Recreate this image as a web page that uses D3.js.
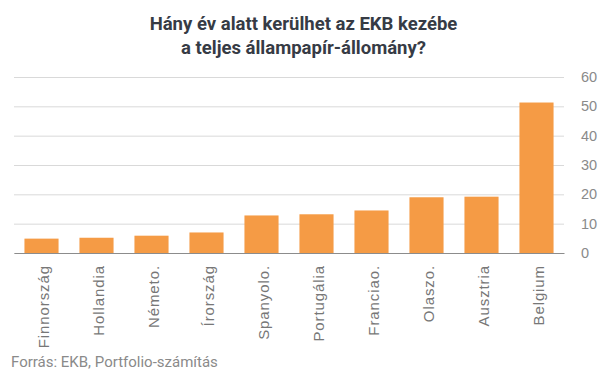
<!DOCTYPE html>
<html>
<head>
<meta charset="utf-8">
<script src="https://cdn.jsdelivr.net/npm/d3@7"></script>
<style>
  body { margin: 0; background: #fff; }
  svg { font-family: Roboto, sans-serif; }
  .grid line { stroke: #d9d9d9; stroke-width: 1; }
  .grid .domain { display: none; }
  .y.axis .domain, .y.axis line { display: none; }
  .y.axis text { fill: #8a8a8a; font-size: 14.5px; }
  .x.axis .domain { stroke: #8c8c8c; }
  .x.axis line { display: none; }
  .x.axis text { fill: #777; font-size: 15px; letter-spacing: 0.9px; }
</style>
</head>
<body>
<div id="chart"></div>
<script>
const categories = ['Finnország', 'Hollandia', 'Németo.', 'Írország', 'Spanyolo.',
  'Portugália', 'Franciao.', 'Olaszo.', 'Ausztria', 'Belgium'];
const values = [4.9, 5.2, 5.9, 7.0, 12.8, 13.2, 14.5, 19.0, 19.2, 51.3];
const yTicks = [0, 10, 20, 30, 40, 50, 60];
const titleLines = ['Hány év alatt kerülhet az EKB kezébe', 'a teljes állampapír-állomány?'];
const source = 'Forrás: EKB, Portfolio-számítás';

const W = 605;
const H = 378;

// plot area
const margin = { top: 77, right: 41, bottom: 125, left: 14 };
const width = W - margin.left - margin.right;
const height = H - margin.top - margin.bottom;

const svg = d3.select('#chart')
  .append('svg')
  .attr('width', W)
  .attr('height', H);

// title
svg.append('text')
  .attr('text-anchor', 'middle')
  .attr('fill', '#363b45')
  .style('font-size', '18.5px')
  .style('font-weight', 'bold')
  .selectAll('tspan')
  .data(titleLines)
  .join('tspan')
  .attr('x', W / 2 + 1)
  .attr('y', (d, i) => 30 + i * 24)
  .text(d => d);

const g = svg.append('g')
  .attr('transform', `translate(${margin.left}, ${margin.top})`);

const x = d3.scaleBand().domain(categories).range([0, width]).paddingInner(0.38).paddingOuter(0.19);
const y = d3.scaleLinear().domain([0, 60]).range([height, 0]);

// gridlines
g.append('g')
  .attr('class', 'grid')
  .call(d3.axisLeft(y).tickValues(yTicks).tickSize(-width).tickFormat(''));

// bars
g.selectAll('.bar')
  .data(values)
  .join('rect')
  .attr('class', 'bar')
  .attr('x', (d, i) => x(categories[i]))
  .attr('width', x.bandwidth())
  .attr('y', d => y(d))
  .attr('height', d => height - y(d))
  .attr('fill', '#f59b45');

// x axis
g.append('g')
  .attr('class', 'x axis')
  .attr('transform', `translate(0, ${height})`)
  .call(d3.axisBottom(x).tickSize(0).tickSizeOuter(0))
  .selectAll('text')
  .attr('transform', 'rotate(-90)')
  .attr('text-anchor', 'end')
  .attr('x', -12)
  .attr('y', 2)
  .attr('dy', '0.35em');

// y axis on the right
g.append('g')
  .attr('class', 'y axis')
  .attr('transform', `translate(${width}, 0)`)
  .call(d3.axisRight(y).tickValues(yTicks).tickSize(0).tickPadding(17));

// source
svg.append('text')
  .attr('x', 11)
  .attr('y', 367)
  .attr('fill', '#8a8a8a')
  .style('font-size', '15px')
  .text(source);
</script>
</body>
</html>
